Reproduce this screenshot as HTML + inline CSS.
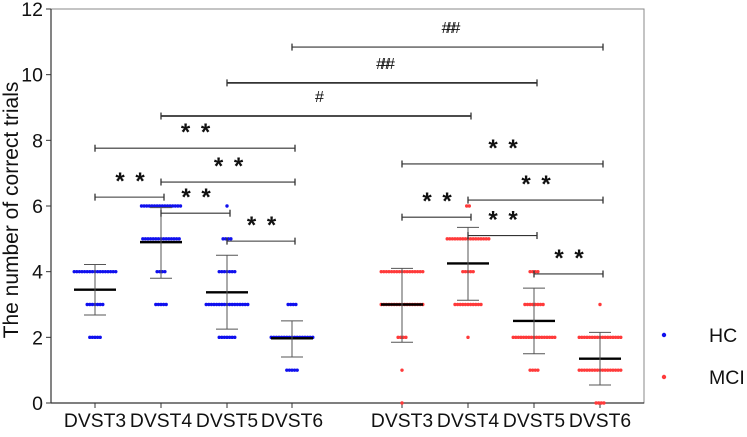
<!DOCTYPE html>
<html><head><meta charset="utf-8"><style>
body{margin:0;background:#fff}
svg text{font-family:"Liberation Sans",Arial,sans-serif}
</style></head><body>
<svg id="c" width="747" height="432" xmlns="http://www.w3.org/2000/svg"></svg>
<script>
const categories=["DVST3","DVST4","DVST5","DVST6","DVST3","DVST4","DVST5","DVST6"];
const groups=["HC","HC","HC","HC","MCI","MCI","MCI","MCI"];
// counts per value: [value, count]
const dotCounts=[
 [[4,17],[3,7],[2,5]],
 [[6,16],[5,15],[4,4],[3,5]],
 [[6,1],[5,4],[4,7],[3,17],[2,7]],
 [[3,4],[2,17],[1,5]],
 [[4,17],[3,17],[2,4],[1,1],[0,1]],
 [[6,2],[5,17],[4,5],[3,11],[2,1]],
 [[4,4],[3,8],[2,17],[1,4]],
 [[3,1],[2,17],[1,17],[0,4]]
];
const means=[3.45,4.9,3.37,1.97,3.0,4.25,2.5,1.35];
const sdLow=[2.68,3.8,2.25,1.4,1.85,3.13,1.5,0.55];
const sdHigh=[4.22,5.95,4.5,2.5,4.1,5.35,3.5,2.15];
const yTicks=[0,2,4,6,8,10,12];
// brackets: [fromCat, toCat, yValue, label]
const brackets=[
 [0,1,6.27,"* *"],[1,3,6.73,"* *"],[1,2,5.78,"* *"],[2,3,4.93,"* *"],[0,3,7.76,"* *"],
 [1,5,8.74,"#"],[2,6,9.75,"###"],[3,7,10.84,"###"],
 [4,5,5.66,"* *"],[5,7,6.18,"* *"],[4,7,7.28,"* *"],[5,6,5.1,"* *"],[6,7,3.93,"* *"]
];
const catX=[95,161,227,292,402,468,534,600];
const NS="http://www.w3.org/2000/svg";
const svg=document.getElementById('c');
const X0=51,X1=644,Y0=403,Y1=9;
function y(v){return Y0-(v/12)*(Y0-Y1);}
function x(i){return catX[i];}
function mk(t,a,p){const e=document.createElementNS(NS,t);for(const k in a)e.setAttribute(k,a[k]);(p||svg).appendChild(e);return e;}
let f=mk('rect',{x:X0,y:Y1,width:X1-X0,height:Y0-Y1,fill:'none',stroke:'#888','stroke-width':1});


let ax=mk('line',{x1:X0,x2:X1,y1:Y0,y2:Y0,stroke:'#333','stroke-width':1.2});


let ay=mk('line',{x1:X0,x2:X0,y1:Y1,y2:Y0,stroke:'#333','stroke-width':1.2});


yTicks.forEach(t=>{
 let l=mk('line',{x1:X0-5,x2:X0,y1:y(t),y2:y(t),stroke:'#333'});
 
 
 let tx=mk('text',{x:X0-8,y:y(t)+7,'text-anchor':'end','font-size':19.5,fill:'#111'});tx.textContent=t;
 
 
});
let yt=mk('text',{x:0,y:0,transform:'translate(18,210) rotate(-90)','text-anchor':'middle','font-size':21,fill:'#111'});
yt.textContent='The number of correct trials';


categories.forEach((c,i)=>{
 let l=mk('line',{x1:x(i),x2:x(i),y1:Y0,y2:Y0+5,stroke:'#333'});
 
 
 let t=mk('text',{x:x(i),y:427,'text-anchor':'middle','font-size':19.3,fill:'#111'});t.textContent=c;
 
 
});
categories.forEach((c,i)=>{
 const col=groups[i]==='HC'?'#1010ee':'#ff3a3a';
 dotCounts[i].forEach(([v,n])=>{
  for(let k=0;k<n;k++){
   const dx=(k-(n-1)/2)*2.6;
   let d=mk('circle',{cx:x(i)+dx,cy:y(v),r:1.7,fill:col});
   
   
  }
 });
});
categories.forEach((c,i)=>{
 let m=mk('line',{x1:x(i)-21,x2:x(i)+21,y1:y(means[i]),y2:y(means[i]),stroke:'#000','stroke-width':2.4});
 
 
 let v=mk('line',{x1:x(i),x2:x(i),y1:y(sdLow[i]),y2:y(sdHigh[i]),stroke:'#555','stroke-width':1});
 
 
 [sdLow[i],sdHigh[i]].forEach(s=>{
  let cp=mk('line',{x1:x(i)-11,x2:x(i)+11,y1:y(s),y2:y(s),stroke:'#555','stroke-width':1});
  
  
 });
});
brackets.forEach(([a,b,v,lab])=>{
 const yy=y(v);
 let g=mk('g',{});
 
 
 const thick=lab==='#'||(lab==='###'&&b===6)?1.8:1.1;
 mk('line',{x1:x(a),x2:x(b)+3,y1:yy,y2:yy,stroke:'#333','stroke-width':thick},g);
 mk('line',{x1:x(a),x2:x(a),y1:yy-3.5,y2:yy+3.5,stroke:'#333','stroke-width':1.3},g);
 mk('line',{x1:x(b)+3,x2:x(b)+3,y1:yy-3.5,y2:yy+3.5,stroke:'#333','stroke-width':1.3},g);
 const isHash=lab.startsWith('#');
 let t=mk('text',{x:(x(a)+x(b))/2+3,y:yy-(isHash?14:8),'text-anchor':'middle','font-size':isHash?16:24,'font-weight':isHash?'normal':'bold','letter-spacing':isHash?-4:2,fill:'#111'},g);
 t.textContent=lab;
 
 
});
[["HC","#1010ee",335],["MCI","#ff3a3a",377]].forEach(([n,c,yy])=>{
 let g=mk('g',{});
 
 
 mk('circle',{cx:664,cy:yy,r:2.2,fill:c},g);
 let t=mk('text',{x:709,y:yy+7,'font-size':19.5,fill:'#111'},g);t.textContent=n;
});
</script>
</body></html>
